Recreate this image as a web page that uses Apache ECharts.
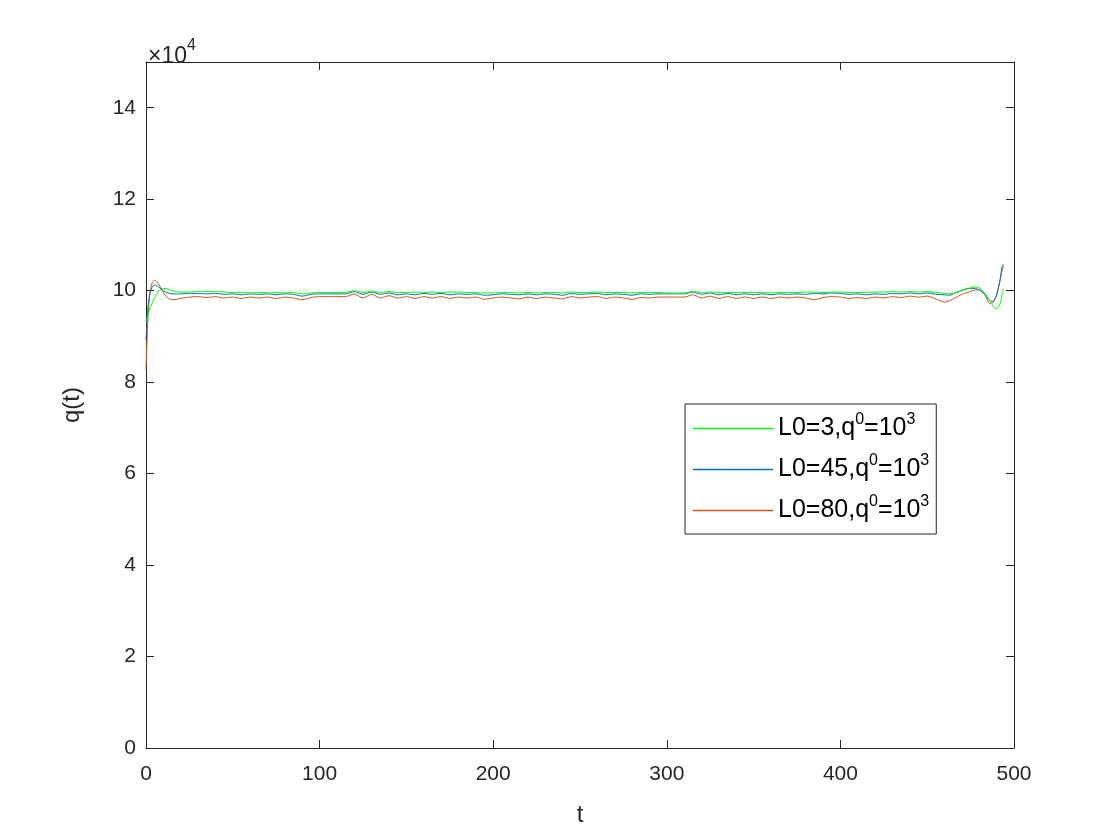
<!DOCTYPE html>
<html>
<head>
<meta charset="utf-8">
<script src="https://cdn.jsdelivr.net/npm/echarts@6/dist/echarts.min.js"></script>
<style>html,body{margin:0;padding:0;background:#fff}#c{width:1120px;height:840px}</style>
</head>
<body>
<div id="c"></div>
<script>
// time samples (t)
const tValues = [0,1,2,3,4,5,6,8,10,12,15,
  20,25,30,35,40,45,50,55,60,65,70,75,80,85,90,95,100,105,110,115,120,125,130,135,140,145,150,155,160,165,170,175,180,185,190,195,
  200,205,210,215,220,225,230,235,240,245,250,255,260,265,270,275,280,285,290,295,300,305,310,315,320,325,330,335,340,345,350,355,360,365,370,375,380,385,390,395,
  400,405,410,415,420,425,430,435,440,445,450,455,460,
  463,466,470,474,477,480,483,486,488,490,492,493,494];

// q(t) values in units of 1e4
const qL3 = [9.31,9.45,9.58,9.68,9.77,9.85,9.92,10.01,10.05,10.04,10.00,
  9.97,9.97,9.98,9.98,9.98,9.97,9.96,9.96,9.95,9.96,9.95,9.96,9.95,9.96,9.93,9.95,9.96,9.96,9.96,9.96,10.00,9.96,9.99,9.96,9.98,9.96,9.96,9.97,9.96,9.97,9.96,9.97,9.97,9.96,9.96,9.95,
  9.95,9.96,9.96,9.95,9.96,9.95,9.96,9.96,9.95,9.97,9.96,9.96,9.97,9.96,9.96,9.96,9.95,9.96,9.96,9.96,9.95,9.95,9.95,9.98,9.96,9.97,9.96,9.96,9.96,9.96,9.96,9.96,9.95,9.96,9.96,9.96,9.97,9.97,9.96,9.97,
  9.97,9.96,9.96,9.96,9.97,9.97,9.98,9.97,9.98,9.97,9.98,9.96,9.94,
  9.93,9.95,10.00,10.05,10.08,10.06,9.95,9.78,9.66,9.60,9.72,9.90,10.04];

const qL45 = [8.92,9.60,9.90,10.04,10.10,10.12,10.11,10.06,10.00,9.96,9.93,
  9.93,9.94,9.94,9.93,9.94,9.92,9.93,9.91,9.93,9.92,9.93,9.91,9.93,9.92,9.88,9.92,9.93,9.93,9.93,9.93,9.98,9.92,9.97,9.92,9.95,9.91,9.93,9.91,9.94,9.92,9.94,9.91,9.93,9.92,9.93,9.90,
  9.91,9.93,9.92,9.91,9.93,9.91,9.93,9.92,9.90,9.94,9.92,9.93,9.94,9.91,9.93,9.92,9.90,9.93,9.92,9.93,9.93,9.93,9.93,9.97,9.92,9.95,9.91,9.94,9.91,9.93,9.91,9.93,9.91,9.93,9.92,9.93,9.92,9.94,9.93,9.95,
  9.94,9.92,9.93,9.91,9.93,9.92,9.94,9.93,9.95,9.93,9.95,9.92,9.91,
  9.90,9.95,10.01,10.05,10.05,10.02,9.92,9.78,9.77,9.90,10.25,10.50,10.58];

const qL80 = [8.27,9.30,9.85,10.10,10.20,10.23,10.21,10.10,9.96,9.86,9.80,
  9.83,9.86,9.87,9.85,9.87,9.84,9.86,9.83,9.86,9.84,9.86,9.83,9.86,9.84,9.80,9.85,9.87,9.87,9.87,9.87,9.93,9.84,9.92,9.84,9.89,9.84,9.87,9.83,9.87,9.84,9.87,9.83,9.86,9.84,9.86,9.81,
  9.84,9.86,9.84,9.82,9.86,9.83,9.86,9.84,9.82,9.87,9.84,9.86,9.87,9.83,9.86,9.84,9.81,9.85,9.84,9.86,9.86,9.86,9.86,9.91,9.84,9.88,9.83,9.87,9.83,9.86,9.83,9.86,9.83,9.86,9.84,9.86,9.84,9.80,9.85,9.87,
  9.86,9.83,9.85,9.83,9.86,9.84,9.87,9.85,9.88,9.86,9.88,9.82,9.75,
  9.78,9.84,9.92,9.97,10.01,10.02,9.93,9.72,9.74,9.92,10.22,10.42,10.54];

const seriesNames = ['L0=3,q^0=10^3','L0=45,q^0=10^3','L0=80,q^0=10^3'];
const seriesColors = ['#00FF00','#0072BD','#D95319'];
const xTicks = [0,100,200,300,400,500];
const yTicks = [0,2,4,6,8,10,12,14];

const axisColor = '#262626';
const font = 'Liberation Sans, Arial, Helvetica, sans-serif';

function pairs(vals){ return tValues.map((t,i)=>[t, vals[i]]); }

const chart = echarts.init(document.getElementById('c'), null, {renderer:'canvas'});

const baseX = {
  type:'value', min:0, max:500, interval:100,
  axisLine:{show:true, onZero:false, lineStyle:{color:axisColor, width:1}},
  axisTick:{show:true, inside:true, length:8, lineStyle:{color:axisColor}},
  splitLine:{show:false}
};
const baseY = {
  type:'value', min:0, max:15, interval:2,
  axisLine:{show:true, onZero:false, lineStyle:{color:axisColor, width:1}},
  axisTick:{show:true, inside:true, length:8, lineStyle:{color:axisColor}},
  splitLine:{show:false}
};

function legendFmt(name){
  const m = name.match(/^(L0=\d+),q\^0=10\^3$/);
  return '{b|' + m[1] + ',q}{s|0}{b|=10}{s|3}';
}

chart.setOption({
  animation:false,
  backgroundColor:'#ffffff',
  grid:{left:146, right:106, top:62, bottom:92, containLabel:false},
  xAxis:[
    Object.assign({}, baseX, {
      position:'bottom', name:'t', nameLocation:'middle', nameGap:55,
      nameTextStyle:{color:axisColor, fontSize:24, fontFamily:font},
      axisLabel:{show:true, color:axisColor, fontSize:21, fontFamily:font, margin:16,
        formatter: v => xTicks.includes(v) ? String(v) : ''}
    }),
    Object.assign({}, baseX, {position:'top', axisLabel:{show:false}})
  ],
  yAxis:[
    Object.assign({}, baseY, {
      position:'left', name:'q(t)', nameLocation:'middle', nameGap:62, nameRotate:90,
      nameTextStyle:{color:axisColor, fontSize:24, fontFamily:font},
      axisLabel:{show:true, color:axisColor, fontSize:21, fontFamily:font, margin:10,
        formatter: v => yTicks.includes(v) ? String(v) : ''}
    }),
    Object.assign({}, baseY, {position:'right', axisLabel:{show:false}})
  ],
  legend:{
    orient:'vertical', left:685, top:404,
    data: seriesNames,
    itemWidth:80, itemHeight:1.5, itemGap:8, icon:'rect',
    padding:[8,7,7,8],
    backgroundColor:'#ffffff', borderColor:axisColor, borderWidth:1, borderRadius:0,
    formatter: legendFmt,
    textStyle:{
      color:'#000', fontFamily:font, fontSize:25,
      rich:{
        b:{fontSize:25, fontFamily:font, color:'#000', lineHeight:29},
        s:{fontSize:16, fontFamily:font, color:'#000', padding:[0,0,17,0], lineHeight:29}
      }
    }
  },
  graphic:[{
    type:'text', left:148, top:38,
    style:{
      text:'{a|×10}{s|4}',
      rich:{
        a:{fontSize:23, fontFamily:font, fill:axisColor},
        s:{fontSize:16, fontFamily:font, fill:axisColor, padding:[0,0,22,0]}
      }
    }
  }],
  series: [qL3, qL45, qL80].map((vals,i)=>({
    name: seriesNames[i], type:'line', xAxisIndex:0, yAxisIndex:0,
    data: pairs(vals), symbol:'none', smooth:0.25,
    lineStyle:{color:seriesColors[i], width:1},
    itemStyle:{color:seriesColors[i]},
    z: 3 - i
  }))
});
</script>
</body>
</html>
